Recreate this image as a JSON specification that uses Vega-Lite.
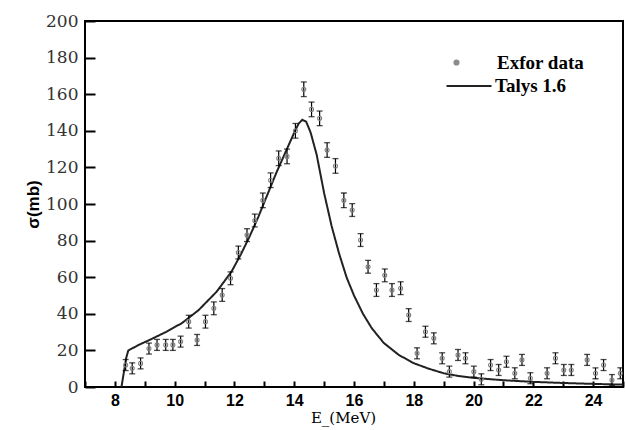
{
  "$schema": "https://vega.github.io/schema/vega-lite/v6.json",
  "width": 538,
  "height": 366,
  "autosize": "none",
  "padding": {"left": 85, "top": 21, "right": 3, "bottom": 43},
  "background": "white",
  "config": {
    "view": {"stroke": "black", "strokeWidth": 2},
    "axisX": {"orient": "bottom", "domain": false, "ticks": true, "tickColor": "black", "tickOpacity": 1, "grid": false, "labelOverlap": false, "labelFlush": false, "labelBound": false,
      "values": [7.2, 7.6, 8, 8.4, 8.8, 9.2, 9.6, 10, 10.4, 10.8, 11.2, 11.6, 12, 12.4, 12.8, 13.2, 13.6, 14, 14.4, 14.8, 15.2, 15.6, 16, 16.4, 16.8, 17.2, 17.6, 18, 18.4, 18.8, 19.2, 19.6, 20, 20.4, 20.8, 21.2, 21.6, 22, 22.4, 22.8, 23.2, 23.6, 24, 24.4, 24.8],
      "labelExpr": "datum.value % 2 == 0 ? format(datum.value, 'd') : ''",
      "offset": -6, "tickSize": 6, "tickWidth": 2, "labelPadding": 5,
      "labelFont": "Liberation Sans", "labelFontWeight": "bold", "labelFontSize": 16, "labelColor": "black",
      "titleFont": "DejaVu Serif", "titleFontWeight": "normal", "titleFontSize": 15, "titleColor": "black",
      "titleX": 258, "titleY": 41, "titleBaseline": "alphabetic"},
    "axisY": {"orient": "left", "domain": false, "ticks": true, "tickColor": "black", "grid": false, "labelOverlap": false, "labelFlush": false, "labelBound": false,
      "values": [0, 50, 100, 150, 200],
      "offset": -10, "tickSize": 10, "tickWidth": 2, "labelPadding": 7,
      "labelFont": "DejaVu Serif", "labelFontSize": 17, "labelColor": "#333333",
      "titleFont": "Liberation Sans", "titleFontWeight": "bold", "titleFontSize": 17, "titleColor": "black",
      "titleX": -53, "titleY": 183, "titleBaseline": "bottom"}
  },
  "datasets": {
    "exfor": [
      {"E": 8.36, "sigma": 12.0, "err": 3, "series": "Exfor data"},
      {"E": 8.58, "sigma": 10.2, "err": 3, "series": "Exfor data"},
      {"E": 8.86, "sigma": 12.9, "err": 3, "series": "Exfor data"},
      {"E": 9.14, "sigma": 21.0, "err": 3, "series": "Exfor data"},
      {"E": 9.41, "sigma": 23.0, "err": 3, "series": "Exfor data"},
      {"E": 9.70, "sigma": 23.0, "err": 3, "series": "Exfor data"},
      {"E": 9.94, "sigma": 23.0, "err": 3, "series": "Exfor data"},
      {"E": 10.20, "sigma": 24.8, "err": 3, "series": "Exfor data"},
      {"E": 10.47, "sigma": 35.7, "err": 3.5, "series": "Exfor data"},
      {"E": 10.75, "sigma": 25.7, "err": 3, "series": "Exfor data"},
      {"E": 11.03, "sigma": 35.7, "err": 3.5, "series": "Exfor data"},
      {"E": 11.31, "sigma": 43.0, "err": 3.5, "series": "Exfor data"},
      {"E": 11.59, "sigma": 50.3, "err": 3.5, "series": "Exfor data"},
      {"E": 11.87, "sigma": 59.4, "err": 3.5, "series": "Exfor data"},
      {"E": 12.13, "sigma": 73.5, "err": 3.5, "series": "Exfor data"},
      {"E": 12.42, "sigma": 83.0, "err": 3.5, "series": "Exfor data"},
      {"E": 12.68, "sigma": 91.0, "err": 3.5, "series": "Exfor data"},
      {"E": 12.95, "sigma": 102.0, "err": 4, "series": "Exfor data"},
      {"E": 13.21, "sigma": 113.0, "err": 4, "series": "Exfor data"},
      {"E": 13.48, "sigma": 125.0, "err": 4, "series": "Exfor data"},
      {"E": 13.76, "sigma": 126.0, "err": 4, "series": "Exfor data"},
      {"E": 14.04, "sigma": 140.0, "err": 4, "series": "Exfor data"},
      {"E": 14.32, "sigma": 162.7, "err": 4, "series": "Exfor data"},
      {"E": 14.58, "sigma": 151.7, "err": 4, "series": "Exfor data"},
      {"E": 14.85, "sigma": 146.8, "err": 4, "series": "Exfor data"},
      {"E": 15.10, "sigma": 129.5, "err": 4, "series": "Exfor data"},
      {"E": 15.38, "sigma": 120.8, "err": 4, "series": "Exfor data"},
      {"E": 15.66, "sigma": 102.0, "err": 4, "series": "Exfor data"},
      {"E": 15.94, "sigma": 96.7, "err": 3.5, "series": "Exfor data"},
      {"E": 16.22, "sigma": 80.3, "err": 3.5, "series": "Exfor data"},
      {"E": 16.47, "sigma": 65.7, "err": 3.5, "series": "Exfor data"},
      {"E": 16.75, "sigma": 53.0, "err": 3.5, "series": "Exfor data"},
      {"E": 17.03, "sigma": 61.0, "err": 3.5, "series": "Exfor data"},
      {"E": 17.27, "sigma": 53.0, "err": 3.5, "series": "Exfor data"},
      {"E": 17.56, "sigma": 54.0, "err": 3.5, "series": "Exfor data"},
      {"E": 17.83, "sigma": 39.3, "err": 3.5, "series": "Exfor data"},
      {"E": 18.11, "sigma": 18.4, "err": 3, "series": "Exfor data"},
      {"E": 18.39, "sigma": 30.2, "err": 3, "series": "Exfor data"},
      {"E": 18.67, "sigma": 26.6, "err": 3, "series": "Exfor data"},
      {"E": 18.95, "sigma": 15.7, "err": 3, "series": "Exfor data"},
      {"E": 19.19, "sigma": 8.4, "err": 3, "series": "Exfor data"},
      {"E": 19.48, "sigma": 17.5, "err": 3, "series": "Exfor data"},
      {"E": 19.73, "sigma": 15.7, "err": 3, "series": "Exfor data"},
      {"E": 20.01, "sigma": 8.4, "err": 3, "series": "Exfor data"},
      {"E": 20.26, "sigma": 4.2, "err": 3, "series": "Exfor data"},
      {"E": 20.57, "sigma": 12.0, "err": 3, "series": "Exfor data"},
      {"E": 20.84, "sigma": 9.3, "err": 3, "series": "Exfor data"},
      {"E": 21.10, "sigma": 13.8, "err": 3, "series": "Exfor data"},
      {"E": 21.38, "sigma": 7.5, "err": 3, "series": "Exfor data"},
      {"E": 21.62, "sigma": 14.8, "err": 3, "series": "Exfor data"},
      {"E": 21.90, "sigma": 4.8, "err": 3, "series": "Exfor data"},
      {"E": 22.46, "sigma": 7.5, "err": 3, "series": "Exfor data"},
      {"E": 22.74, "sigma": 15.7, "err": 3, "series": "Exfor data"},
      {"E": 23.02, "sigma": 9.3, "err": 3, "series": "Exfor data"},
      {"E": 23.27, "sigma": 9.3, "err": 3, "series": "Exfor data"},
      {"E": 23.80, "sigma": 14.8, "err": 3, "series": "Exfor data"},
      {"E": 24.08, "sigma": 7.5, "err": 3, "series": "Exfor data"},
      {"E": 24.35, "sigma": 12.0, "err": 3, "series": "Exfor data"},
      {"E": 24.63, "sigma": 3.8, "err": 3, "series": "Exfor data"},
      {"E": 24.91, "sigma": 7.5, "err": 3, "series": "Exfor data"}
    ],
    "talys": [
      {"E": 8.22, "sigma": 0, "series": "Talys 1.6"},
      {"E": 8.3, "sigma": 8, "series": "Talys 1.6"},
      {"E": 8.38, "sigma": 16, "series": "Talys 1.6"},
      {"E": 8.45, "sigma": 20, "series": "Talys 1.6"},
      {"E": 8.8, "sigma": 23, "series": "Talys 1.6"},
      {"E": 9.2, "sigma": 26, "series": "Talys 1.6"},
      {"E": 9.7, "sigma": 30, "series": "Talys 1.6"},
      {"E": 10.25, "sigma": 35, "series": "Talys 1.6"},
      {"E": 10.8, "sigma": 42, "series": "Talys 1.6"},
      {"E": 11.4, "sigma": 52, "series": "Talys 1.6"},
      {"E": 11.9, "sigma": 63, "series": "Talys 1.6"},
      {"E": 12.2, "sigma": 72, "series": "Talys 1.6"},
      {"E": 12.5, "sigma": 82, "series": "Talys 1.6"},
      {"E": 12.8, "sigma": 93, "series": "Talys 1.6"},
      {"E": 13.1, "sigma": 105, "series": "Talys 1.6"},
      {"E": 13.4, "sigma": 117, "series": "Talys 1.6"},
      {"E": 13.7, "sigma": 128, "series": "Talys 1.6"},
      {"E": 14.0, "sigma": 139, "series": "Talys 1.6"},
      {"E": 14.15, "sigma": 144, "series": "Talys 1.6"},
      {"E": 14.27, "sigma": 146, "series": "Talys 1.6"},
      {"E": 14.4, "sigma": 145, "series": "Talys 1.6"},
      {"E": 14.55, "sigma": 139, "series": "Talys 1.6"},
      {"E": 14.75, "sigma": 127, "series": "Talys 1.6"},
      {"E": 15.0, "sigma": 106, "series": "Talys 1.6"},
      {"E": 15.25, "sigma": 88, "series": "Talys 1.6"},
      {"E": 15.5, "sigma": 73, "series": "Talys 1.6"},
      {"E": 15.75, "sigma": 60, "series": "Talys 1.6"},
      {"E": 16.0, "sigma": 50, "series": "Talys 1.6"},
      {"E": 16.3, "sigma": 40, "series": "Talys 1.6"},
      {"E": 16.6, "sigma": 32, "series": "Talys 1.6"},
      {"E": 17.0, "sigma": 24, "series": "Talys 1.6"},
      {"E": 17.5, "sigma": 17.5, "series": "Talys 1.6"},
      {"E": 18.0, "sigma": 13, "series": "Talys 1.6"},
      {"E": 18.5, "sigma": 10, "series": "Talys 1.6"},
      {"E": 19.0, "sigma": 7.5, "series": "Talys 1.6"},
      {"E": 19.5, "sigma": 6, "series": "Talys 1.6"},
      {"E": 20.0, "sigma": 5, "series": "Talys 1.6"},
      {"E": 21.0, "sigma": 3.7, "series": "Talys 1.6"},
      {"E": 22.0, "sigma": 2.8, "series": "Talys 1.6"},
      {"E": 23.0, "sigma": 2.2, "series": "Talys 1.6"},
      {"E": 24.0, "sigma": 1.7, "series": "Talys 1.6"},
      {"E": 25.0, "sigma": 1.3, "series": "Talys 1.6"}
    ]
  },
  "layer": [
    {
      "data": {"name": "talys"},
      "mark": {"type": "line", "color": "#222222", "strokeWidth": 2, "clip": true},
      "encoding": {
        "x": {"field": "E", "type": "quantitative", "title": "E_(MeV)", "scale": {"domain": [7, 25], "nice": false, "zero": false}, "axis": {"labelOverlap": false}},
        "y": {"field": "sigma", "type": "quantitative", "title": "σ(mb)", "scale": {"domain": [0, 200], "nice": false}, "axis": {"labelOverlap": false}},
        "strokeDash": {"field": "series", "type": "nominal", "scale": {"domain": ["Talys 1.6"], "range": [[1, 0]]},
          "legend": {"title": null, "orient": "none", "legendX": 360, "legendY": 41, "padding": 0, "labelOffset": 2,
            "symbolSize": 2025, "symbolStrokeColor": "#222222", "symbolStrokeWidth": 2.2,
            "labelFont": "Liberation Serif", "labelFontWeight": "bold", "labelFontSize": 19, "labelColor": "black"}}
      }
    },
    {
      "data": {"name": "exfor"},
      "mark": {"type": "errorbar", "ticks": {"size": 6, "color": "black", "thickness": 1.3}, "rule": {"color": "black", "strokeWidth": 1.2}},
      "encoding": {
        "x": {"field": "E", "type": "quantitative", "title": "E_(MeV)", "axis": {"labelOverlap": false}},
        "y": {"field": "sigma", "type": "quantitative", "title": "σ(mb)", "axis": {"labelOverlap": false}},
        "yError": {"field": "err"}
      }
    },
    {
      "data": {"name": "exfor"},
      "mark": {"type": "point", "filled": false, "strokeWidth": 1.1, "opacity": 1, "size": 16, "color": "#808080"},
      "encoding": {
        "x": {"field": "E", "type": "quantitative", "title": "E_(MeV)", "axis": {"labelOverlap": false}},
        "y": {"field": "sigma", "type": "quantitative", "title": "σ(mb)", "axis": {"labelOverlap": false}},
        "shape": {"field": "series", "type": "nominal", "scale": {"domain": ["Exfor data"], "range": ["circle"]},
          "legend": {"title": null, "orient": "none", "legendX": 362, "legendY": 32, "padding": 0, "labelOffset": 31,
            "symbolSize": 10, "symbolStrokeColor": "#8c8c8c", "symbolStrokeWidth": 3,
            "labelFont": "Liberation Serif", "labelFontWeight": "bold", "labelFontSize": 19, "labelColor": "black"}}
      }
    }
  ]
}
